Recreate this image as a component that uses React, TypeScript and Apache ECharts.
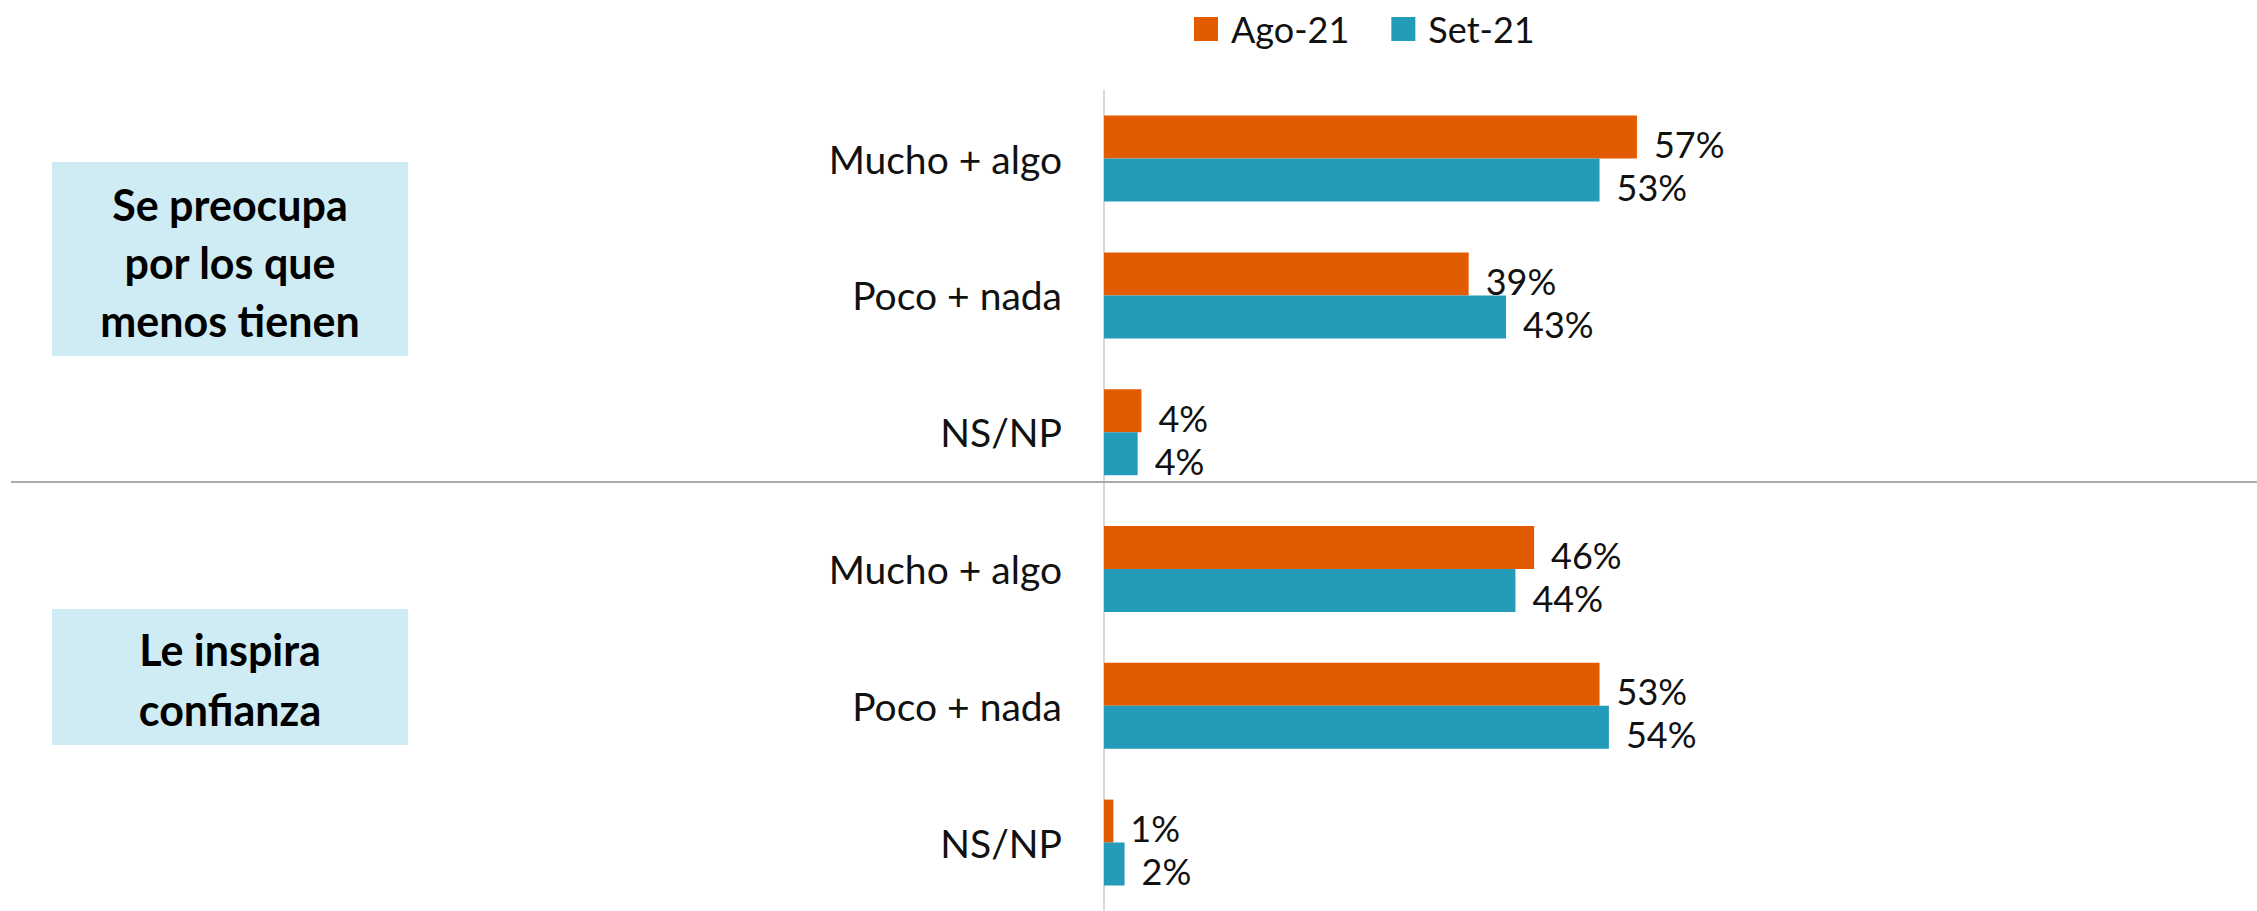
import React, { useEffect, useRef } from "react";
import * as echarts from "echarts";

const categories = [
  "Mucho + algo",
  "Poco + nada",
  "NS/NP",
  "Mucho + algo ",
  "Poco + nada ",
  "NS/NP ",
];
const seriesNames = ["Ago-21", "Set-21"];
const agoValues = [57, 39, 4, 46, 53, 1];
const setValues = [53, 43, 3.6, 44, 54, 2.2];
const groupTitles = ["Se preocupa\npor los que\nmenos tienen", "Le inspira\nconfianza"];

const ORANGE = "#E35B00";
const BLUE = "#259BBA";
const FONT = "Lato";

export default function App() {
  const ref = useRef<HTMLDivElement>(null);
  useEffect(() => {
    if (!ref.current) return;
    const chart = echarts.init(ref.current, null, { renderer: "svg" });
    const labelCfg = {
      show: true,
      position: "right",
      distance: 17,
      offset: [0, 7],
      fontFamily: FONT,
      fontSize: 36,
      color: "#111",
      formatter: (p: any) => Math.round(p.value) + "%",
    };
    chart.setOption({
      animation: false,
      backgroundColor: "#ffffff",
      legend: {
        data: seriesNames,
        left: 1189,
        top: 6,
        icon: "rect",
        itemWidth: 24,
        itemHeight: 24,
        itemGap: 42,
        textStyle: {
          fontFamily: FONT,
          fontSize: 36,
          color: "#111",
          padding: [0, 0, 0, 8],
        },
      },
      grid: { left: 1104, top: 90.2, width: 935, height: 825.6 },
      xAxis: {
        type: "value",
        min: 0,
        max: 100,
        show: false,
      },
      yAxis: {
        type: "category",
        data: categories,
        inverse: true,
        axisTick: { show: false },
        axisLine: { show: true, lineStyle: { color: "#d9d9d9", width: 2 } },
        axisLabel: {
          margin: 42,
          fontFamily: FONT,
          fontSize: 39,
          color: "#111",
          formatter: (v: string) => v.trim(),
        },
        splitLine: { show: false },
      },
      series: [
        {
          name: seriesNames[0],
          type: "bar",
          data: agoValues,
          barWidth: 43,
          barGap: "0%",
          itemStyle: { color: ORANGE },
          label: labelCfg,
        },
        {
          name: seriesNames[1],
          type: "bar",
          data: setValues,
          barWidth: 43,
          barGap: "0%",
          itemStyle: { color: BLUE },
          label: labelCfg,
        },
      ],
      graphic: [
        {
          type: "line",
          shape: { x1: 11, y1: 482, x2: 2257, y2: 482 },
          style: { stroke: "#aaaaaa", lineWidth: 2 },
          z: 10,
        },
        {
          type: "rect",
          shape: { x: 52, y: 162, width: 356, height: 194 },
          style: { fill: "#CFECF4" },
        },
        {
          type: "text",
          x: 230,
          y: 262,
          style: {
            text: groupTitles[0],
            fontFamily: FONT,
            fontWeight: "bold",
            fontSize: 43,
            lineHeight: 58,
            fill: "#000",
            align: "center",
            verticalAlign: "middle",
          },
        },
        {
          type: "rect",
          shape: { x: 52, y: 609, width: 356, height: 136 },
          style: { fill: "#CFECF4" },
        },
        {
          type: "text",
          x: 230,
          y: 679,
          style: {
            text: groupTitles[1],
            fontFamily: FONT,
            fontWeight: "bold",
            fontSize: 43,
            lineHeight: 60,
            fill: "#000",
            align: "center",
            verticalAlign: "middle",
          },
        },
      ],
    });
    return () => chart.dispose();
  }, []);
  return (
    <div
      ref={ref}
      style={{ position: "fixed", left: 0, top: 0, width: 2257, height: 911, background: "#fff" }}
    />
  );
}
